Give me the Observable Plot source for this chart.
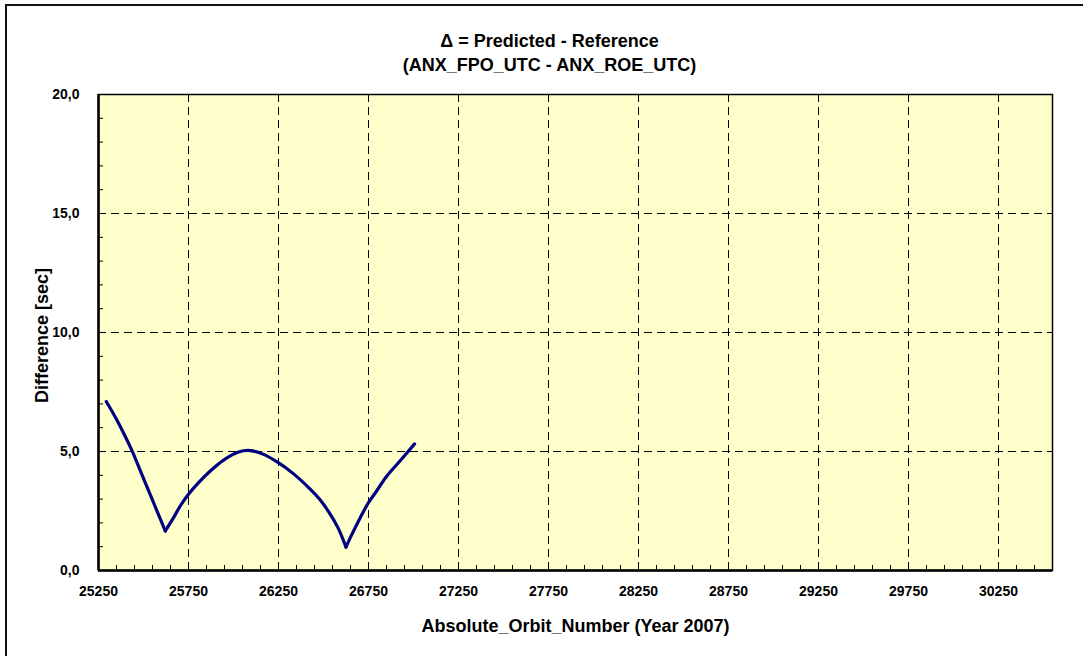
<!DOCTYPE html>
<html>
<head>
<meta charset="utf-8">
<script src="https://cdn.jsdelivr.net/npm/d3@7"></script>
<script src="https://cdn.jsdelivr.net/npm/@observablehq/plot@0.6"></script>
<style>
  html, body { margin: 0; padding: 0; background: #fff; }
  #wrap { position: relative; width: 1083px; height: 656px; overflow: hidden; }
  #border { position: absolute; left: 5px; top: 4px; width: 1100px; height: 700px; border: 2px solid #111; box-sizing: border-box; }
  #chart { position: absolute; left: 0; top: 0; }
</style>
</head>
<body>
<div id="wrap"><div id="border"></div><div id="chart"></div></div>
<script>
// Data
const orbits = [25293, 25343, 25389, 25436, 25482, 25528, 25574, 25621, 25667, 25704, 25750, 25806, 25871, 25945, 26028, 26093, 26167, 26247, 26334, 26426, 26480, 26530, 26580, 26625, 26649, 26704, 26750, 26797, 26852, 26927, 27006];
const diffs  = [7.10, 6.45, 5.78, 5.04, 4.20, 3.36, 2.52, 1.66, 2.22, 2.71, 3.20, 3.69, 4.18, 4.64, 4.98, 5.04, 4.88, 4.54, 4.06, 3.42, 2.98, 2.45, 1.80, 0.98, 1.38, 2.22, 2.85, 3.36, 3.97, 4.62, 5.32];
// indices of the two sharp minima (the curve is smooth between them)
const cusps = [7, 23];

const xTicks = [25250, 25750, 26250, 26750, 27250, 27750, 28250, 28750, 29250, 29750, 30250];
const yTicks = [0, 5, 10, 15, 20];
const xGrid = [25750, 26250, 26750, 27250, 27750, 28250, 28750, 29250, 29750, 30250];
const yGrid = [5, 10, 15];
const minorX = d3.range(25350, 30550, 100);
const minorY = d3.range(1, 20, 1);

const titleLine1 = "\u0394 = Predicted - Reference";
const titleLine2 = "(ANX_FPO_UTC - ANX_ROE_UTC)";
const xLabel = "Absolute_Orbit_Number (Year 2007)";
const yLabel = "Difference [sec]";

// split into smooth pieces between cusps (cusp points shared by neighbouring pieces)
const bounds = [0, ...cusps, orbits.length - 1];
const data = [];
for (let s = 0; s < bounds.length - 1; s++) {
  for (let i = bounds[s]; i <= bounds[s + 1]; i++) data.push({x: orbits[i], y: diffs[i], seg: s});
}

const W = 1083, H = 656, mL = 98, mR = 31, mT = 94, mB = 86;
const plotW = W - mL - mR, plotH = H - mT - mB;
const font = "'Liberation Sans', Arial, sans-serif";

const chart = Plot.plot({
  width: W, height: H,
  marginLeft: mL, marginRight: mR, marginTop: mT, marginBottom: mB,
  style: {fontFamily: font, fontWeight: "bold", color: "#000", background: "transparent", overflow: "visible"},
  x: {domain: [25250, 30550], label: null},
  y: {domain: [0, 20], label: null},
  marks: [
    Plot.frame({fill: "#FFFFCC", stroke: null}),
    Plot.gridX(xGrid, {stroke: "#000", strokeOpacity: 1, strokeWidth: 1, strokeDasharray: "8,5"}),
    Plot.gridY(yGrid, {stroke: "#000", strokeOpacity: 1, strokeWidth: 1, strokeDasharray: "8,5"}),
    Plot.ruleX(minorX, {stroke: "#000", strokeWidth: 1, insetTop: plotH - 5}),
    Plot.ruleY(minorY, {stroke: "#000", strokeWidth: 1, insetRight: plotW - 5}),
    Plot.line(data, {x: "x", y: "y", z: "seg", curve: "catmull-rom", stroke: "#000080", strokeWidth: 3.2, strokeLinejoin: "round", strokeLinecap: "round"}),
    Plot.frame({stroke: "#000", strokeWidth: 1.5}),
    Plot.ruleY([0], {stroke: "#000", strokeWidth: 2.5}),
    Plot.ruleX([25250], {stroke: "#000", strokeWidth: 2.5}),
    Plot.axisX({ticks: xTicks, tickSize: 0, tickPadding: 16, tickFormat: d => String(d), fontSize: 14, fontWeight: "bold", label: null}),
    Plot.axisY({ticks: yTicks, tickSize: 0, tickPadding: 19, tickFormat: d => d.toFixed(1).replace(".", ","), fontSize: 14, fontWeight: "bold", label: null}),
    Plot.text([titleLine1], {frameAnchor: "top", dx: -26, dy: -48, lineAnchor: "bottom", fontSize: 18, fontWeight: "bold", fill: "#000"}),
    Plot.text([titleLine2], {frameAnchor: "top", dx: -26, dy: -24, lineAnchor: "bottom", fontSize: 18, fontWeight: "bold", fill: "#000"}),
    Plot.text([xLabel], {frameAnchor: "bottom", dy: 61, lineAnchor: "bottom", fontSize: 18, fontWeight: "bold", fill: "#000"}),
    Plot.text([yLabel], {frameAnchor: "left", dx: -51, dy: 3, rotate: -90, textAnchor: "middle", lineAnchor: "bottom", fontSize: 18, fontWeight: "bold", fill: "#000"})
  ]
});
document.getElementById("chart").appendChild(chart);
</script>
</body>
</html>
